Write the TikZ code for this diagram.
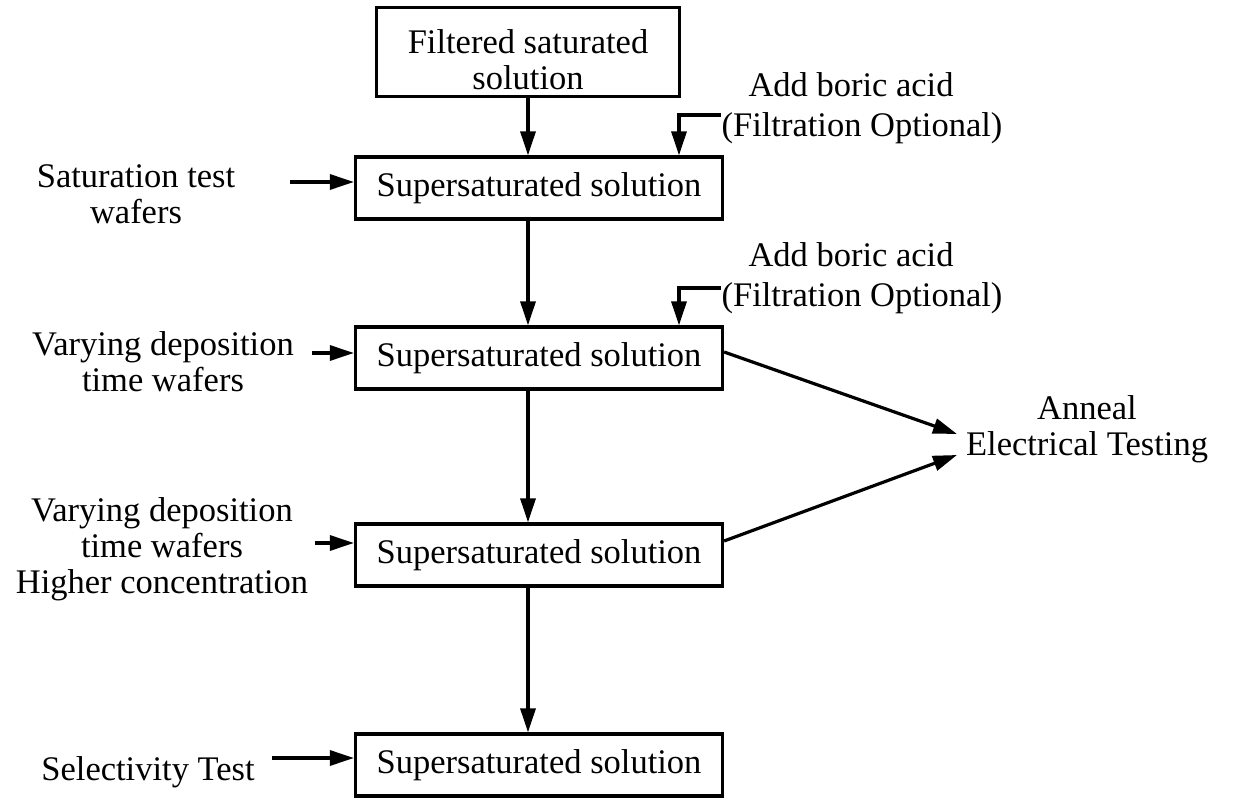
\documentclass[tikz,border=0pt]{standalone}
\usepackage{fontspec}
\setmainfont{Liberation Serif}
\usetikzlibrary{arrows.meta,calc}
\begin{document}
\begin{tikzpicture}[x=1pt,y=-1pt,
  line width=3.2pt,
  txt/.style={font=\fontsize{34.5}{36}\selectfont, align=center, inner sep=0pt},
  stepbox/.style={draw, txt, minimum width=367pt, minimum height=62pt},
  flow/.style={-{Triangle[length=24pt,width=15pt]}}]
\useasboundingbox (0,0) rectangle (1243,802);

% main column of boxes
\node[draw, minimum width=303pt, minimum height=89pt] (top) at (528,52) {};
\node[txt] (toptxt) at (528,60) {Filtered saturated\\solution};
\node[stepbox] (b1) at (539,188) {Supersaturated solution};
\node[stepbox] (b2) at (539,358) {Supersaturated solution};
\node[stepbox] (b3) at (539,555) {Supersaturated solution};
\node[stepbox] (b4) at (539,765) {Supersaturated solution};

% vertical flow
\draw[flow] (top.south) -- (top.south |- b1.north);
\draw[flow] (top.south |- b1.south) -- (top.south |- b2.north);
\draw[flow] (top.south |- b2.south) -- (top.south |- b3.north);
\draw[flow] (top.south |- b3.south) -- (top.south |- b4.north);

% boric acid additions
\node[txt] (add1) at (851,85) {Add boric acid};
\node[txt] (filt1) at (862,128) {(Filtration Optional)};
\coordinate (f1) at (721,115);
\draw[flow] (f1) -| ($(b1.north)+(140,0)$);
\node[txt] (add2) at (851,255) {Add boric acid};
\node[txt] (filt2) at (862,298) {(Filtration Optional)};
\coordinate (f2) at (721,288);
\draw[flow] (f2) -| ($(b2.north)+(140,0)$);

% wafer inputs
\node[txt] (in1) at (136,194) {Saturation test\\wafers};
\coordinate (s1) at (290,182);
\draw[flow] (s1) -- (s1 -| b1.west);
\node[txt] (in2) at (163,362) {Varying deposition\\time wafers};
\coordinate (s2) at (312,353);
\draw[flow] (s2) -- (s2 -| b2.west);
\node[txt] (in3) at (162,549) {Varying deposition\\time wafers\\Higher concentration};
\coordinate (s3) at (315,543);
\draw[flow] (s3) -- (s3 -| b3.west);
\node[txt] (in4) at (148,772) {Selectivity Test};
\coordinate (s4) at (272,758);
\draw[flow] (s4) -- (s4 -| b4.west);

% anneal / electrical testing
\node[txt] (ann) at (1087,429) {Anneal\\Electrical Testing};
\coordinate (a1) at (957,434);
\coordinate (a2) at (957,455);
\draw[flow] ($(b2.east)+(0,-6)$) -- (a1);
\draw[flow] ($(b3.east)+(0,-14)$) -- (a2);
\end{tikzpicture}
\end{document}
